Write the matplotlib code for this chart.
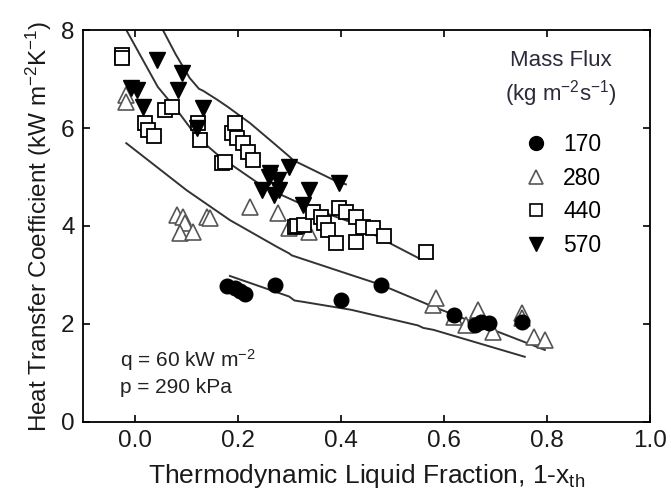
import matplotlib
matplotlib.use("Agg")
import matplotlib.pyplot as plt
from matplotlib.lines import Line2D

plt.rcParams['font.family'] = ['Liberation Sans', 'DejaVu Sans']
plt.rcParams['mathtext.fontset'] = 'custom'
plt.rcParams['mathtext.rm'] = 'Liberation Sans'
plt.rcParams['mathtext.it'] = 'Liberation Sans'

# ---- data ----
g170_x = [0.18, 0.195, 0.205, 0.215, 0.273, 0.40, 0.478, 0.619, 0.66, 0.672, 0.687, 0.751]
g170_y = [2.77, 2.74, 2.68, 2.62, 2.80, 2.49, 2.80, 2.18, 1.98, 2.04, 2.02, 2.04]

g280_x = [-0.016, -0.016, 0.082, 0.094, 0.098, 0.088, 0.113, 0.140, 0.146, 0.224, 0.279,
          0.299, 0.338, 0.579, 0.585, 0.619, 0.644, 0.663, 0.667, 0.696, 0.751, 0.751, 0.775, 0.796]
g280_y = [6.67, 6.53, 4.22, 4.18, 4.06, 3.86, 3.88, 4.18, 4.16, 4.39, 4.26,
          3.96, 3.88, 2.39, 2.53, 2.14, 1.98, 2.18, 2.29, 1.84, 2.22, 2.12, 1.73, 1.67]

g440_x = [-0.024, -0.024, 0.02, 0.027, 0.037, 0.059, 0.072, 0.123, 0.127, 0.17, 0.176,
          0.189, 0.195, 0.199, 0.211, 0.221, 0.23, 0.312, 0.316, 0.328, 0.347, 0.361,
          0.367, 0.375, 0.39, 0.396, 0.41, 0.429, 0.43, 0.443, 0.462, 0.484, 0.566]
g440_y = [7.49, 7.43, 6.10, 5.96, 5.84, 6.37, 6.43, 6.10, 5.76, 5.28, 5.31,
          5.90, 6.10, 5.80, 5.69, 5.51, 5.35, 3.98, 4.00, 4.02, 4.29, 4.18,
          4.06, 3.92, 3.65, 4.37, 4.29, 4.18, 3.67, 3.98, 3.96, 3.80, 3.47]

g570_x = [-0.006, 0.004, 0.016, 0.043, 0.084, 0.092, 0.121, 0.133, 0.248, 0.26, 0.263,
          0.27, 0.279, 0.28, 0.299, 0.326, 0.338, 0.396]
g570_y = [6.82, 6.78, 6.43, 7.39, 6.78, 7.12, 6.00, 6.41, 4.73, 5.00, 5.08,
          4.63, 4.94, 4.73, 5.20, 4.43, 4.73, 4.88]

# model curves
m570_x = [0.055, 0.08, 0.107, 0.125, 0.133, 0.16, 0.181, 0.224, 0.27, 0.30, 0.31, 0.316, 0.386, 0.41]
m570_y = [8.00, 7.50, 7.02, 6.80, 6.76, 6.58, 6.43, 6.10, 5.69, 5.42, 5.32, 5.30, 4.94, 4.85]
m440_x = [-0.016, 0.045, 0.082, 0.121, 0.166, 0.25, 0.336, 0.425, 0.484, 0.55]
m440_y = [8.00, 6.84, 6.37, 5.82, 5.41, 4.80, 4.39, 4.06, 3.71, 3.35]
m280_x = [-0.016, 0.101, 0.185, 0.277, 0.30, 0.305, 0.42, 0.478, 0.58, 0.796]
m280_y = [5.69, 4.73, 4.12, 3.57, 3.44, 3.40, 3.00, 2.80, 2.35, 1.47]
m170_x = [0.185, 0.30, 0.31, 0.328, 0.42, 0.55, 0.56, 0.58, 0.757]
m170_y = [2.98, 2.56, 2.48, 2.45, 2.29, 1.97, 1.92, 1.88, 1.33]

legend_labels = ['170', '280', '440', '570']

# ---- figure ----
fig = plt.figure(figsize=(6.71, 4.97), dpi=100)
ax = fig.add_axes([0.1237, 0.151, 0.845, 0.7886])

lc = '#333333'
for mx, my in [(m570_x, m570_y), (m440_x, m440_y), (m280_x, m280_y), (m170_x, m170_y)]:
    ax.plot(mx, my, color=lc, lw=1.4, zorder=2)

ax.plot(g280_x, g280_y, ls='none', marker='^', ms=11, mfc='white', mec='#555555', mew=1.2, zorder=3)
ax.plot(g440_x, g440_y, ls='none', marker='s', ms=10, mfc='white', mec='black', mew=1.3, zorder=4)
ax.plot(g570_x, g570_y, ls='none', marker='v', ms=11, mfc='black', mec='black', zorder=5)
ax.plot(g170_x, g170_y, ls='none', marker='o', ms=10.5, mfc='black', mec='black', zorder=5)

ax.set_xlim(-0.1, 1.0)
ax.set_ylim(0, 8)
ax.set_xticks([0.0, 0.2, 0.4, 0.6, 0.8, 1.0])
ax.set_yticks([0, 2, 4, 6, 8])
ax.set_xticklabels(['0.0', '0.2', '0.4', '0.6', '0.8', '1.0'])
ax.tick_params(direction='in', top=True, right=True, length=5, width=1.2, labelsize=17.5,
               pad=6, labelcolor='#1a1a1a')
for s in ax.spines.values():
    s.set_linewidth(1.3)

ax.set_xlabel('Thermodynamic Liquid Fraction, 1-x$_{\\mathrm{th}}$', fontsize=19, labelpad=7,
              color='#1a1a1a')
ax.set_ylabel('Heat Transfer Coefficient (kW m$^{-2}$K$^{-1}$)', fontsize=17.5, labelpad=5,
              color='#1a1a1a')

# legend
ax.text(0.843, 0.923, 'Mass Flux', transform=ax.transAxes, ha='center', va='center',
        fontsize=16, color='#2a2a3a')
ax.text(0.843, 0.838, '(kg m$^{-2}$s$^{-1}$)', transform=ax.transAxes, ha='center', va='center',
        fontsize=16, color='#2a2a3a')
handles = [
    Line2D([], [], ls='none', marker='o', ms=10, mfc='black', mec='black'),
    Line2D([], [], ls='none', marker='^', ms=10, mfc='white', mec='#555555', mew=1.2),
    Line2D([], [], ls='none', marker='s', ms=9, mfc='white', mec='black', mew=1.2),
    Line2D([], [], ls='none', marker='v', ms=10, mfc='black', mec='black'),
]
ax.legend(handles, legend_labels, loc='upper left', bbox_to_anchor=(0.762, 0.76), frameon=False,
          fontsize=16.5, handlelength=1.0, handletextpad=0.7, labelspacing=0.46, borderaxespad=0)

ax.text(0.065, 0.158, 'q = 60 kW m$^{-2}$', transform=ax.transAxes, fontsize=15, color='#222222',
        va='center')
ax.text(0.065, 0.087, 'p = 290 kPa', transform=ax.transAxes, fontsize=15, color='#222222',
        va='center')

fig.savefig('out.png', dpi=100)
